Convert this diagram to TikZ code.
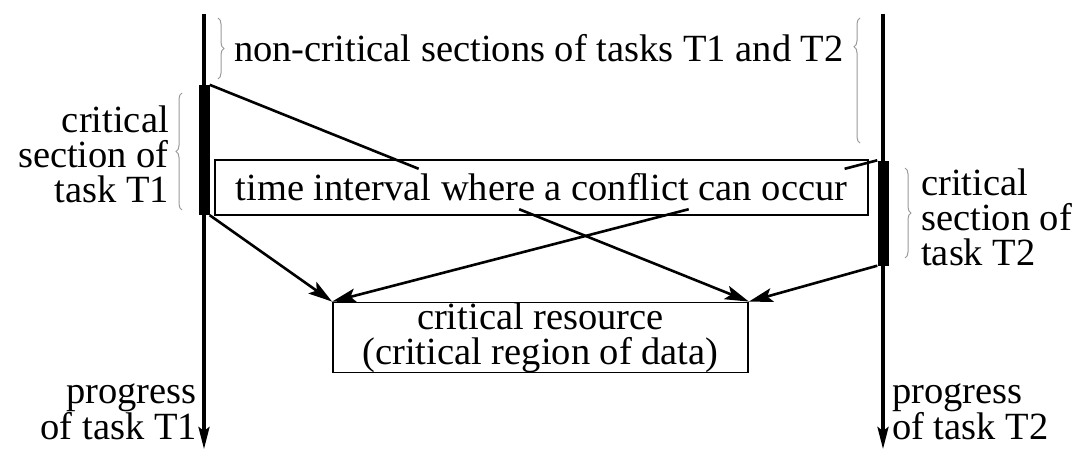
\documentclass[tikz,border=0pt]{standalone}
\usepackage{fontspec}
\setmainfont{Liberation Serif}
\usetikzlibrary{arrows.meta,decorations.pathreplacing}
\begin{document}
\begin{tikzpicture}[x=1pt,y=-1pt,
  txt/.style={font=\fontsize{38.5}{35}\selectfont, inner sep=0pt},
  axis/.style={line width=3.4pt, -{Stealth[length=22pt,width=11pt,inset=4pt]}},
  bar/.style={fill=black, minimum width=11pt, inner sep=0pt},
  wire/.style={line width=2.6pt},
  link/.style={wire, -{Stealth[length=24pt,width=14pt,inset=5pt]}},
  frame/.style={draw, line width=1.8pt},
  brace/.style={draw=gray!80, line width=1pt, decorate,
                decoration={brace, amplitude=6pt}},
]
\useasboundingbox (0,0) rectangle (1077,460);

% time axes of the two tasks
\coordinate (t1top) at (204,14);
\coordinate (t1end) at (204,449);
\coordinate (t2top) at (883,14);
\coordinate (t2end) at (883,449);
\draw[axis] (t1top) -- (t1end);
\draw[axis] (t2top) -- (t2end);

% critical sections drawn as thick bars
\node[bar, minimum height=130pt] (b1) at (204,150) {};
\node[bar, minimum height=105pt] (b2) at (883,213) {};

% shared resource
\node[frame, txt, minimum width=415pt, minimum height=59pt, align=center]
  (res) at (540.5,337.5) {critical resource\\(critical region of data)};

% conflict interval
\node[frame, inner sep=0pt, minimum width=653pt, minimum height=55pt]
  (tbox) at (541.5,187.5) {};
\node[txt, inner sep=0pt, text height=31pt, text depth=9pt] (tlabel) at (541.5,189)
  {time interval where a conflict can occur};

% accesses to the resource
\draw[link] (b1.south east) -- (res.north west);
\draw[link] (b2.south west) -- (res.north east);

% the two crossing accesses pass under the label
\coordinate (aIn)  at (intersection of b1.north east--res.north east
                        and tlabel.north west--tlabel.north east);
\coordinate (aOut) at (intersection of b1.north east--res.north east
                        and tlabel.south west--tlabel.south east);
\coordinate (bIn)  at (intersection of b2.north west--res.north west
                        and tlabel.north west--tlabel.north east);
\coordinate (bOut) at (intersection of b2.north west--res.north west
                        and tlabel.south west--tlabel.south east);
\draw[wire] (b1.north east) -- (aIn);
\draw[link] (aOut) -- (res.north east);
\draw[wire] (b2.north west) -- (bIn);
\draw[link] (bOut) -- (res.north west);

% labels
\node[txt, anchor=west] (nc) at (234,48) {non-critical sections of tasks T1 and T2};
\node[txt, align=right, anchor=east] (cs1) at (169,154) {critical\\section of\\task T1};
\node[txt, align=left, anchor=west] (cs2) at (921,217) {critical\\section of\\task T2};
\node[txt, align=right, anchor=east] (p1) at (197,412) {progress\\of task T1};
\node[txt, align=left, anchor=west] (p2) at (892,412) {progress\\of task T2};

% braces
\draw[brace] (218,18) -- (218,79);
\draw[brace, decoration={aspect=0.77}] (860,143) -- (860,18);
\draw[brace] (182,210) -- (182,93);
\draw[brace] (905,168) -- (905,258);
\end{tikzpicture}
\end{document}
